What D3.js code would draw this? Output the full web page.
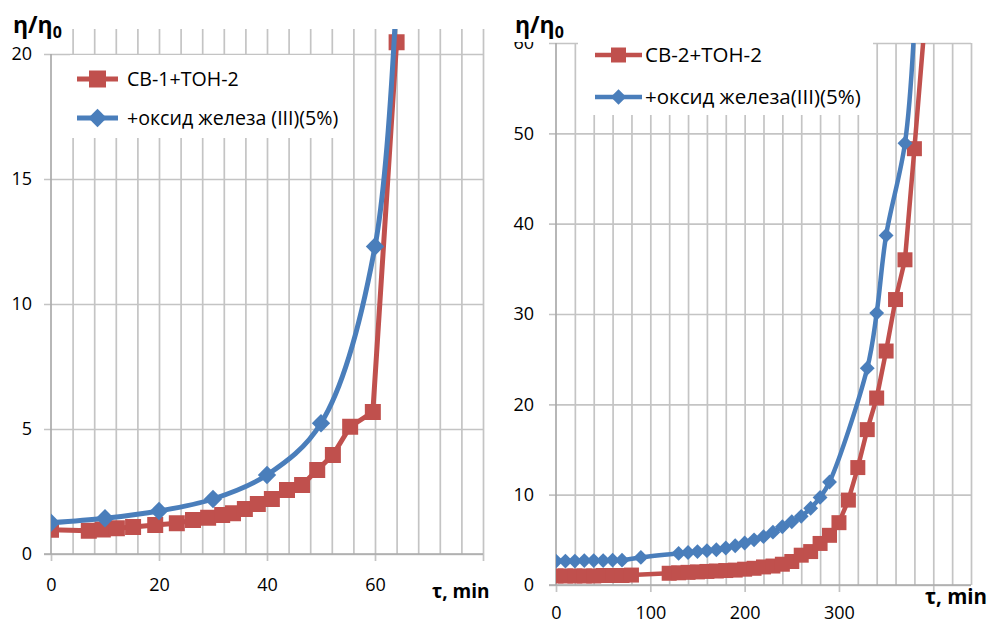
<!DOCTYPE html>
<html>
<head>
<meta charset="utf-8">
<script src="https://cdn.jsdelivr.net/npm/d3@7"></script>
<style>
  body { margin: 0; background: #fff; }
  svg { display: block; }
  text { font-family: "Open Sans", sans-serif; fill: #000; }
</style>
</head>
<body>
<div id="main"></div>
<script>
/// data ///

// left panel: СВ-1+ТОН-2
var leftTimeRed = [0, 7, 9.6, 12.2, 15.2, 19.3, 23.3, 26.3, 29.1, 31.7, 33.7, 35.9, 38.3, 40.9, 43.7, 46.5, 49.3, 52.2, 55.4, 59.6, 64];
var leftEtaRed  = [0.97, 0.93, 0.98, 1.03, 1.08, 1.16, 1.23, 1.36, 1.45, 1.56, 1.63, 1.8, 2.0, 2.2, 2.56, 2.76, 3.36, 3.96, 5.09, 5.68, 20.47];

// left panel: + оксид железа (III)(5%)
var leftTimeBlue = [0, 10, 20, 30, 40, 50, 60, 65];
var leftEtaBlue  = [1.25, 1.43, 1.72, 2.2, 3.16, 5.23, 12.3, 28];

// right panel: СВ-2+ТОН-2
var rightTimeRed = [0, 10, 20, 30, 40, 50, 60, 70, 80, 120, 130, 140, 150, 160, 170, 180, 190, 200, 210, 220,
                    230, 240, 250, 260, 270, 280, 290, 300, 310, 320, 330, 340, 350, 360, 370, 380, 390];
var rightEtaRed  = [1.0, 1.0, 1.0, 1.0, 1.0, 1.05, 1.05, 1.05, 1.1, 1.3, 1.35, 1.4, 1.45, 1.5, 1.55, 1.6, 1.65, 1.75, 1.85, 2.0,
                    2.1, 2.3, 2.6, 3.3, 3.7, 4.6, 5.5, 6.9, 9.4, 13.0, 17.2, 20.7, 25.9, 31.6, 36.0, 48.3, 61];

// right panel: + оксид железа(III)(5%)
var rightTimeBlue = [0, 10, 20, 30, 40, 50, 60, 70, 90, 130, 140, 150, 160, 170, 180, 190, 200, 210, 220, 230,
                     240, 250, 260, 270, 280, 290, 330, 340, 350, 370, 380];
var rightEtaBlue  = [2.65, 2.65, 2.65, 2.7, 2.7, 2.7, 2.75, 2.75, 3.05, 3.5, 3.6, 3.7, 3.8, 3.9, 4.1, 4.35, 4.65, 5.0, 5.35, 5.85,
                     6.45, 7.0, 7.6, 8.5, 9.7, 11.4, 24.0, 30.1, 38.7, 48.9, 62];

// tick labels
var leftXLabels  = [0, 20, 40, 60];
var leftYLabels  = [0, 5, 10, 15, 20];
var rightXLabels = [0, 100, 200, 300];
var rightYLabels = [0, 10, 20, 30, 40, 50, 60];

var legendLeft  = ['СВ-1+ТОН-2', '+оксид железа (III)(5%)'];
var legendRight = ['СВ-2+ТОН-2', '+оксид железа(III)(5%)'];

const RED = '#C0504D';
const BLUE = '#4A7EBB';
const GRID = '#c4c4c4';

const svg = d3.select('#main')
            .append('svg')
            .attr('width', 991)
            .attr('height', 621);

// one chart panel
function drawPanel(p) {
    const x = d3.scaleLinear().domain([0, p.xMax]).range(p.xRange);
    const y = d3.scaleLinear().domain([0, p.yMax]).range(p.yRange);
    const x0 = p.xRange[0], x1 = p.xRange[1];
    const y0 = p.yRange[0], y1 = p.yRange[1];

    svg.append('clipPath').attr('id', p.id + '-clip')
        .append('rect')
        .attr('x', x0).attr('y', y1)
        .attr('width', x1 - x0).attr('height', y0 - y1);

    // vertical minor gridlines
    const vGrid = svg.append('g')
        .attr('transform', `translate(0,${y0})`)
        .call(d3.axisBottom(x)
            .tickValues(d3.range(p.xMinor, p.xMax + 0.001, p.xMinor))
            .tickSize(-(y0 - y1))
            .tickFormat(''));
    vGrid.select('.domain').remove();
    vGrid.selectAll('line').attr('stroke', GRID).attr('stroke-width', 1.7);

    // horizontal gridlines + y labels
    const yAx = svg.append('g')
        .attr('transform', `translate(${x0 - 7},0)`)
        .call(d3.axisLeft(y)
            .tickValues(p.yLabels)
            .tickSize(-(x1 - x0 + 7))
            .tickPadding(p.yPad));
    yAx.select('.domain').remove();
    yAx.selectAll('line').attr('stroke', GRID).attr('stroke-width', 1.7);
    yAx.selectAll('text').style('font-size', '18px').style('font-family', '"Open Sans", sans-serif');

    // major x ticks + labels
    const xAx = svg.append('g')
        .attr('transform', `translate(0,${y0})`)
        .call(d3.axisBottom(x)
            .tickValues(d3.range(0, p.xMax + 0.001, p.xMajor))
            .tickSize(7)
            .tickPadding(p.xPad)
            .tickFormat(d => p.xLabels.includes(d) ? d : ''));
    xAx.select('.domain').remove();
    xAx.selectAll('line').attr('stroke', GRID).attr('stroke-width', 1.7);
    xAx.selectAll('text').style('font-size', '18px').style('font-family', '"Open Sans", sans-serif');

    // axis lines
    svg.append('line')
        .attr('x1', x0).attr('x2', x0)
        .attr('y1', y0).attr('y2', y(p.yAxisTop))
        .attr('stroke', '#ababab').attr('stroke-width', 1.7);
    svg.append('line')
        .attr('x1', x0 - 7).attr('x2', x1)
        .attr('y1', y0).attr('y2', y0)
        .attr('stroke', '#ababab').attr('stroke-width', 1.7);

    // series
    const plot = svg.append('g').attr('clip-path', `url(#${p.id}-clip)`);
    p.series.forEach(s => {
        const pts = d3.zip(s.t, s.v);
        plot.append('path')
            .datum(pts)
            .attr('fill', 'none')
            .attr('stroke', s.color)
            .attr('stroke-width', p.lineW)
            .attr('stroke-linejoin', 'round')
            .attr('d', d3.line()
                .x(d => x(d[0]))
                .y(d => y(d[1]))
                .curve(s.smooth ? d3.curveCatmullRom : d3.curveLinear));
        plot.append('g')
            .selectAll('path')
            .data(pts)
            .join('path')
            .attr('fill', s.color)
            .attr('d', d3.symbol(d3.symbolSquare, s.mk * s.mk))
            .attr('transform', d => `translate(${x(d[0])},${y(d[1])})` + (s.diamond ? ' rotate(45)' : ''));
    });

    // legend
    const L = p.legend;
    svg.append('rect')
        .attr('x', L.x).attr('y', L.y)
        .attr('width', L.w).attr('height', L.h)
        .attr('fill', '#fff');
    p.series.forEach((s, i) => {
        const ly = L.rows[i];
        svg.append('line')
            .attr('x1', L.lx1).attr('x2', L.lx2)
            .attr('y1', ly).attr('y2', ly)
            .attr('stroke', s.color).attr('stroke-width', p.lineW);
        svg.append('path')
            .attr('fill', s.color)
            .attr('d', d3.symbol(d3.symbolSquare, L.mk[i] * L.mk[i]))
            .attr('transform', `translate(${(L.lx1 + L.lx2) / 2},${ly})` + (s.diamond ? ' rotate(45)' : ''));
        svg.append('text')
            .attr('x', L.tx).attr('y', ly)
            .attr('dy', '0.35em')
            .style('font-size', L.font + 'px')
            .text(s.name);
    });

    // white box of the y title (hides part of the top label, as in the picture)
    if (p.titleMask) {
        svg.append('rect')
            .attr('x', p.titleMask[0]).attr('y', 0)
            .attr('width', p.titleMask[1] - p.titleMask[0]).attr('height', p.titleMask[2])
            .attr('fill', '#fff');
    }

    // y title η/η0
    const yt = svg.append('text')
        .attr('x', p.yTitle[0]).attr('y', p.yTitle[1])
        .style('font-size', '23px').style('font-weight', 'bold');
    yt.append('tspan').text('η/η');
    yt.append('tspan').attr('dy', 5).style('font-size', '16px').text('0');

    // x title
    svg.append('text')
        .attr('x', p.xTitle[0]).attr('y', p.xTitle[1])
        .style('font-size', p.xTitleSize + 'px').style('font-weight', 'bold')
        .text('τ, min');
}

drawPanel({
    id: 'left',
    xMax: 80, yMax: 21, yAxisTop: 20,
    xRange: [51, 483], yRange: [554, 29],
    xMinor: 4, xMajor: 20,
    xLabels: leftXLabels, yLabels: leftYLabels,
    xPad: 17, yPad: 12,
    lineW: 5,
    series: [
        { name: legendLeft[0], t: leftTimeRed, v: leftEtaRed, color: RED, smooth: false, diamond: false, mk: 16 },
        { name: legendLeft[1], t: leftTimeBlue, v: leftEtaBlue, color: BLUE, smooth: true, diamond: true, mk: 13 }
    ],
    legend: { x: 70, y: 55, w: 283, h: 83, rows: [79, 118], lx1: 77, lx2: 118, tx: 127, mk: [17, 13], font: 19.6 },
    yTitle: [13, 33],
    xTitle: [432, 598], xTitleSize: 19
});

drawPanel({
    id: 'right',
    xMax: 440, yMax: 60, yAxisTop: 60,
    xRange: [556, 971], yRange: [585, 43],
    xMinor: 20, xMajor: 100,
    xLabels: rightXLabels, yLabels: rightYLabels,
    xPad: 14, yPad: 15,
    lineW: 4.5,
    series: [
        { name: legendRight[0], t: rightTimeRed, v: rightEtaRed, color: RED, smooth: false, diamond: false, mk: 15 },
        { name: legendRight[1], t: rightTimeBlue, v: rightEtaBlue, color: BLUE, smooth: true, diamond: true, mk: 10.5 }
    ],
    legend: { x: 578, y: 30, w: 295, h: 85, rows: [55, 97], lx1: 595, lx2: 642, tx: 645, mk: [15, 11], font: 20.5 },
    titleMask: [500, 547, 42],
    yTitle: [515, 33],
    xTitle: [925, 604], xTitleSize: 20.5
});
</script>
</body>
</html>
